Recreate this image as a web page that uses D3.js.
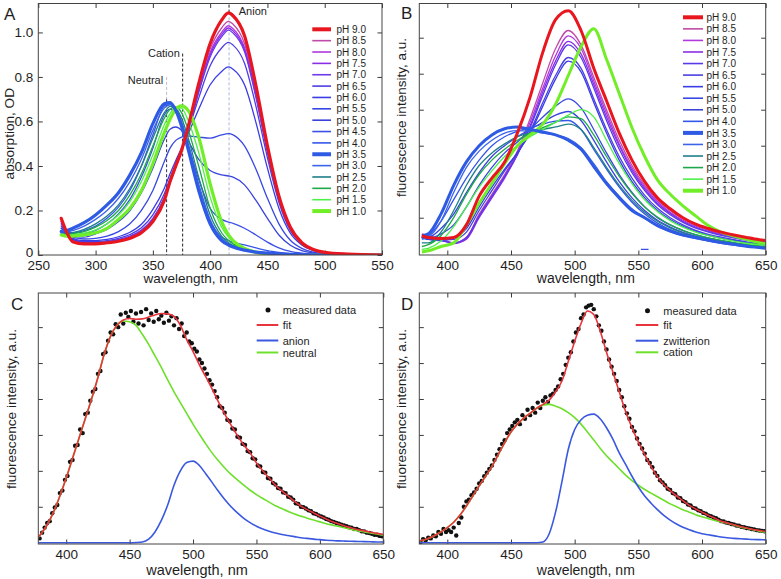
<!DOCTYPE html>
<html><head><meta charset="utf-8">
<script src="https://cdn.jsdelivr.net/npm/d3@7"></script>
<style>
body{margin:0;background:#fff}
svg{display:block}
</style>
</head><body>
<svg id="chart" width="781" height="579"></svg>
<script>
// ---------------- DATA ----------------
// Panel A: absorption spectra
const absWl = [270,275,280,290,300,310,320,330,340,350,360,365,370,375,380,390,400,410,416,420,430,440,450,460,470,480,490,500,520,550];
const absLabels = ["pH 9.0","pH 8.5","pH 8.0","pH 7.5","pH 7.0","pH 6.5","pH 6.0","pH 5.5","pH 5.0","pH 4.5","pH 4.0","pH 3.5","pH 3.0","pH 2.5","pH 2.0","pH 1.5","pH 1.0"];
const absPH90 = [.165,.10,.06,.05,.05,.055,.062,.075,.10,.15,.245,.33,.40,.47,.56,.77,.95,1.055,1.088,1.075,.985,.76,.49,.265,.125,.055,.025,.012,.004,0];
const absPH85 = [.16,.10,.06,.05,.05,.055,.063,.077,.10,.15,.245,.325,.395,.465,.55,.75,.925,1.02,1.05,1.037,.95,.735,.48,.26,.122,.055,.024,.012,.004,0];
const absPH80 = [.15,.10,.065,.055,.052,.056,.065,.08,.105,.155,.25,.325,.395,.462,.545,.74,.91,1.0,1.03,1.017,.932,.722,.472,.256,.12,.055,.024,.012,.004,0];
const absPH75 = [.15,.10,.065,.055,.054,.058,.067,.082,.108,.16,.255,.328,.398,.465,.545,.735,.9,.99,1.02,1.007,.922,.715,.467,.253,.118,.054,.024,.012,.004,0];
const absPH70 = [.14,.10,.068,.058,.056,.06,.07,.085,.112,.165,.26,.332,.40,.468,.545,.73,.89,.98,1.01,.997,.913,.707,.462,.25,.117,.054,.024,.012,.004,0];
const absPH65 = [.13,.10,.07,.06,.06,.065,.075,.092,.122,.18,.275,.345,.41,.475,.545,.705,.85,.93,.955,.943,.862,.668,.437,.237,.11,.051,.022,.011,.004,0];
const absPH60 = [.12,.10,.075,.065,.065,.07,.082,.102,.138,.205,.30,.365,.425,.48,.535,.655,.765,.825,.845,.835,.765,.595,.39,.21,.098,.045,.02,.01,.003,0];
const absPH55 = [.12,.10,.08,.072,.075,.085,.105,.14,.2,.29,.42,.48,.515,.53,.535,.53,.525,.54,.545,.54,.49,.385,.255,.14,.066,.03,.013,.006,.002,0];
const absPH50 = [.11,.095,.085,.08,.095,.115,.15,.2,.28,.39,.52,.565,.575,.56,.52,.43,.38,.36,.355,.35,.315,.245,.165,.09,.044,.02,.009,.004,.001,0];
const absPH45 = [.11,.095,.09,.095,.11,.14,.185,.25,.35,.48,.63,.655,.64,.59,.51,.34,.21,.16,.148,.142,.12,.09,.058,.032,.016,.008,.004,.002,.001,0];
const absPH40 = [.11,.10,.10,.11,.13,.165,.215,.29,.40,.54,.67,.68,.655,.59,.50,.30,.15,.08,.065,.058,.045,.032,.02,.012,.006,.003,.002,.001,0,0];
const absPH35 = [.105,.11,.12,.145,.18,.225,.28,.36,.46,.59,.68,.685,.65,.58,.49,.29,.14,.065,.045,.036,.022,.013,.008,.005,.003,.002,.001,0,0,0];
const absPH30 = [.11,.105,.11,.13,.16,.20,.255,.33,.43,.56,.66,.675,.655,.60,.515,.32,.16,.075,.05,.04,.025,.015,.009,.005,.003,.002,.001,0,0,0];
const absPH25 = [.10,.095,.10,.115,.14,.175,.225,.30,.40,.525,.64,.668,.66,.615,.54,.35,.18,.085,.055,.043,.025,.014,.008,.004,.002,.001,0,0,0,0];
const absPH20 = [.095,.09,.095,.105,.125,.155,.20,.27,.365,.49,.615,.655,.665,.64,.575,.40,.21,.10,.065,.05,.028,.015,.008,.004,.002,.001,0,0,0,0];
const absPH15 = [.09,.085,.09,.098,.113,.14,.18,.24,.33,.45,.585,.635,.663,.66,.615,.46,.26,.125,.08,.06,.032,.016,.008,.004,.002,.001,0,0,0,0];
const absPH10 = [.09,.085,.085,.09,.10,.12,.16,.21,.29,.41,.55,.61,.655,.67,.655,.53,.32,.15,.09,.065,.03,.012,.005,.002,.001,0,0,0,0,0];
const absTicksX = [250,300,350,400,450,500,550];
const absTicksY = [0,0.2,0.4,0.6,0.8,1.0];
// marker lines (wavelength, top OD, OD where light/dark style switches)
const markerNames = ["Neutral","Cation","Anion"];
const markerWl = [362,376,416.5];
const markerTop = [0.80,0.905,1.125];
const markerSplit = [0.70,0.905,1.09];

// Panel B: fluorescence spectra
const fluWl = [380,385,395,405,415,425,435,445,455,465,475,485,495,505,515,525,535,545,555,565,575,585,595,605,615,625,635,645,650];
const fluLabels = ["pH 9.0","pH 8.5","pH 8.0","pH 7.5","pH 7.0","pH 6.5","pH 6.0","pH 5.5","pH 5.0","pH 4.0","pH 3.5","pH 3.0","pH 2.5","pH 2.0","pH 1.5","pH 1.0"];
const fluPH90 = [.5,.45,.42,.45,.8,1.6,2.1,2.55,3.35,4.35,5.6,6.5,6.75,6.2,5.15,4.25,3.35,2.6,2.0,1.55,1.25,1.0,.82,.7,.6,.52,.45,.39,.37];
const fluPH85 = [.55,.5,.42,.3,.45,1.1,1.65,2.2,2.85,3.75,4.75,5.7,6.2,5.8,4.9,4.0,3.15,2.45,1.9,1.5,1.2,.97,.8,.68,.58,.5,.43,.37,.35];
const fluPH80 = [.5,.45,.4,.3,.42,1.05,1.6,2.15,2.8,3.65,4.6,5.5,6.05,5.7,4.8,3.9,3.05,2.38,1.85,1.45,1.15,.93,.77,.65,.55,.47,.41,.35,.33];
const fluPH75 = [.45,.42,.38,.28,.4,1.0,1.55,2.1,2.75,3.55,4.5,5.35,5.9,5.55,4.7,3.8,3.0,2.32,1.8,1.4,1.12,.9,.74,.62,.53,.45,.39,.34,.32];
const fluPH70 = [.45,.4,.36,.3,.45,1.05,1.6,2.15,2.75,3.5,4.4,5.25,5.8,5.45,4.6,3.7,2.9,2.25,1.75,1.36,1.08,.87,.71,.6,.51,.44,.38,.33,.31];
const fluPH65 = [.45,.4,.38,.4,.6,1.2,1.75,2.3,2.8,3.4,4.2,4.95,5.45,5.15,4.3,3.45,2.7,2.1,1.62,1.26,1.0,.8,.65,.54,.46,.39,.33,.29,.27];
const fluPH60 = [.45,.4,.4,.45,.7,1.3,1.85,2.35,2.8,3.35,4.1,4.85,5.35,5.05,4.2,3.35,2.6,2.0,1.55,1.2,.95,.76,.62,.51,.43,.37,.31,.27,.25];
const fluPH55 = [.45,.42,.55,.8,1.3,1.9,2.4,2.8,3.1,3.45,3.8,4.1,4.3,4.05,3.45,2.8,2.2,1.7,1.3,1.0,.8,.64,.52,.43,.36,.3,.25,.21,.2];
const fluPH50 = [.45,.45,.7,1.1,1.7,2.25,2.7,3.0,3.25,3.45,3.65,3.85,3.95,3.7,3.15,2.55,2.0,1.55,1.2,.93,.74,.59,.48,.4,.33,.27,.23,.19,.18];
const fluPH40 = [.45,.5,.9,1.5,2.1,2.6,3.0,3.25,3.4,3.5,3.6,3.68,3.7,3.45,2.9,2.35,1.85,1.43,1.1,.85,.67,.54,.44,.36,.3,.25,.21,.17,.16];
const fluPH35 = [.5,.55,1.1,1.9,2.55,3.0,3.3,3.47,3.52,3.45,3.38,3.3,3.15,2.9,2.42,1.95,1.55,1.2,1.0,.78,.63,.52,.45,.38,.31,.26,.21,.17,.15];
const fluPH30 = [.4,.45,.9,1.7,2.4,2.85,3.15,3.35,3.42,3.4,3.35,3.3,3.2,2.95,2.5,2.0,1.6,1.25,.98,.77,.61,.5,.42,.35,.29,.24,.2,.16,.15];
const fluPH25 = [.3,.3,.6,1.2,1.9,2.45,2.8,3.05,3.25,3.35,3.45,3.52,3.6,3.45,2.95,2.4,1.9,1.48,1.15,.9,.72,.58,.48,.4,.33,.28,.23,.19,.18];
const fluPH20 = [.2,.25,.5,1.0,1.65,2.2,2.6,2.9,3.15,3.35,3.5,3.65,3.8,3.75,3.3,2.7,2.15,1.68,1.3,1.02,.8,.65,.53,.44,.37,.31,.26,.22,.21];
const fluPH15 = [.12,.15,.35,.75,1.3,1.85,2.3,2.7,3.0,3.25,3.45,3.65,3.85,4.0,3.8,3.15,2.5,1.95,1.5,1.17,.92,.74,.6,.5,.42,.35,.29,.25,.24];
const fluPH10 = [.05,.08,.2,.3,.8,1.4,1.95,2.5,3.0,3.3,3.6,4.15,4.95,5.75,6.25,5.4,4.45,3.5,2.7,2.05,1.65,1.33,1.05,.78,.6,.49,.4,.31,.28];
const fluStrayWl = [552,558];
const fluStrayVal = [0.12,0.12];
const fluTicksX = [400,450,500,550,600,650];
const fluTicksY = [1,2,3,4,5,6];

// Panels C and D: fitted components
const fitWl = [378,385,390,395,400,405,410,415,420,425,430,435,440,445,450,455,460,465,470,475,480,485,490,495,500,505,510,515,520,525,530,535,540,545,550,555,560,565,570,575,580,585,590,595,600,605,610,615,620,625,630,635,640,645,650];
const cFit = [.15,.5,.85,1.3,1.8,2.35,2.9,3.45,4.0,4.6,5.25,5.75,6.05,6.2,6.24,6.22,6.23,6.28,6.34,6.38,6.37,6.3,6.05,5.65,5.32,4.95,4.62,4.28,3.92,3.58,3.27,2.98,2.72,2.5,2.22,2.0,1.8,1.6,1.44,1.3,1.15,1.02,.92,.83,.74,.66,.58,.52,.46,.41,.36,.33,.29,.26,.23];
const cAnion = [0,0,0,0,0,0,0,0,0,0,0,0,0,0,0,.005,.02,.1,.3,.62,1.05,1.6,2.0,2.23,2.27,2.15,1.92,1.68,1.43,1.2,1.0,.83,.68,.56,.46,.38,.32,.27,.23,.2,.17,.14,.12,.1,.085,.07,.06,.05,.045,.04,.035,.03,.025,.02,.02];
const cNeutral = [.15,.5,.85,1.3,1.8,2.35,2.9,3.45,4.0,4.6,5.25,5.75,6.05,6.17,6.15,6.05,5.8,5.52,5.2,4.88,4.53,4.2,3.9,3.6,3.3,3.02,2.75,2.5,2.28,2.08,1.9,1.75,1.6,1.46,1.34,1.23,1.13,1.03,.95,.87,.8,.74,.68,.63,.58,.53,.49,.45,.41,.37,.33,.3,.27,.24,.21];
const dFit = [.05,.12,.2,.3,.42,.57,.77,1.02,1.3,1.58,1.85,2.12,2.45,2.78,3.08,3.3,3.47,3.6,3.74,3.85,3.97,4.2,4.5,5.05,5.6,6.1,6.45,6.35,5.9,5.3,4.75,4.2,3.65,3.2,2.8,2.45,2.12,1.84,1.62,1.45,1.3,1.17,1.04,.94,.85,.76,.68,.6,.55,.5,.45,.41,.37,.34,.31];
const dZwitterion = [0,0,0,0,0,0,0,0,0,0,0,0,0,0,0,0,0,0,0,.02,.25,.85,1.7,2.6,3.15,3.42,3.55,3.58,3.45,3.2,2.88,2.5,2.18,1.85,1.55,1.3,1.1,.92,.76,.63,.52,.43,.36,.3,.25,.22,.19,.16,.14,.12,.11,.1,.09,.085,.08];
const dCation = [.05,.12,.2,.3,.42,.57,.77,1.02,1.3,1.58,1.85,2.12,2.45,2.78,3.08,3.3,3.47,3.6,3.74,3.83,3.85,3.8,3.73,3.62,3.48,3.3,3.08,2.86,2.63,2.42,2.24,2.06,1.88,1.73,1.6,1.48,1.38,1.28,1.18,1.08,1.0,.92,.85,.78,.72,.67,.62,.58,.54,.49,.44,.4,.36,.32,.29];
// measured points, every 2 nm from 379 to 649
const measWl = d3.range(379, 650, 2);
const cMeasured = [.12,.28,.42,.55,.6,.82,.98,1.05,1.38,1.45,
 1.75,1.86,2.25,2.3,2.7,2.72,3.15,3.05,3.58,3.62,
 3.95,4.2,4.28,4.7,4.78,5.25,5.3,5.62,5.85,5.8,
 6.08,6.0,6.35,6.1,6.4,6.28,6.45,6.15,6.38,6.1,
 6.42,6.05,6.5,6.2,6.38,6.15,6.45,6.22,6.32,6.12,
 6.4,6.18,6.3,6.05,6.25,5.95,6.1,5.75,5.85,5.6,
 5.55,5.4,5.32,5.1,5.0,4.85,4.7,4.52,4.4,4.22,
 4.05,3.8,3.75,3.62,3.42,3.38,3.18,3.15,2.95,2.92,
 2.75,2.72,2.55,2.52,2.35,2.32,2.15,2.12,1.97,1.95,
 1.8,1.78,1.66,1.62,1.52,1.5,1.4,1.38,1.28,1.26,
 1.2,1.1,1.08,1.0,.99,.95,.9,.88,.82,.8,
 .76,.73,.7,.66,.64,.6,.58,.55,.53,.5,
 .48,.46,.43,.42,.38,.38,.35,.32,.31,.28,
 .27,.25,.22,.22,.19,.18];
const dMeasured = [.02,.1,.06,.14,.12,.2,.18,.3,.25,.38,
 .3,.35,.3,.42,.2,.55,.7,1.0,1.15,1.2,
 1.32,1.4,1.5,1.65,1.72,1.85,1.95,2.05,2.15,2.3,
 2.45,2.6,2.75,2.85,3.05,3.15,3.25,3.35,3.42,3.3,
 3.55,3.45,3.7,3.55,3.75,3.62,3.9,3.75,3.95,4.05,
 3.92,4.1,4.15,4.25,4.35,4.55,4.7,4.95,5.15,5.3,
 5.6,5.85,5.95,6.25,6.35,6.55,6.6,6.62,6.5,6.3,
 6.05,5.9,5.6,5.38,5.1,4.9,4.7,4.5,4.25,4.05,
 3.8,3.6,3.45,3.22,3.1,2.9,2.75,2.62,2.48,2.3,
 2.22,2.1,1.95,1.86,1.74,1.68,1.6,1.5,1.47,1.38,
 1.35,1.26,1.24,1.16,1.13,1.06,1.04,.97,.95,.9,
 .88,.83,.81,.76,.74,.7,.68,.64,.6,.59,
 .56,.55,.52,.51,.48,.47,.44,.43,.41,.4,
 .38,.37,.35,.34,.33,.32];
const cLegend = ["measured data","fit","anion","neutral"];
const dLegend = ["measured data","fit","zwitterion","cation"];

// ---------------- STYLE ----------------
const FONT = '"Liberation Sans", Arial, Helvetica, sans-serif';
const TXT = "#1e1e1e";
const absColors = ["#e8161e","#c04aa8","#b038dc","#8a2ee6","#6c3ae8","#4c3ee4","#3a3ce6","#3848e2","#3a44dc","#3a50e6","#3456ea","#2e5ae4","#3c64ea","#1f7f8a","#1fa84a","#4ef04a","#72ee28"];
const fluColors = ["#e8161e","#c04aa8","#b038dc","#8a2ee6","#5a3ae8","#4a40e4","#3a3ce6","#3848e2","#3a44dc","#3456ea","#2e5ae4","#3c64ea","#1f7f8a","#1fa84a","#4ef04a","#72ee28"];
const thickA = new Set(["pH 9.0","pH 3.5","pH 1.0"]);
const FIT_RED = "#e8343c", COMP_BLUE = "#3a58e0", COMP_GREEN = "#6ee02c";

const svg = d3.select("#chart");
svg.append("rect").attr("width",781).attr("height",579).attr("fill","#fff");

function panel(id, box, xDom, yDom, xTicks, yTicks, yFmt) {
  const x = d3.scaleLinear().domain(xDom).range([box.l, box.r]);
  const y = d3.scaleLinear().domain(yDom).range([box.b, box.t]);
  const g = svg.append("g");
  svg.append("clipPath").attr("id", "clip" + id).append("rect")
    .attr("x", box.l).attr("y", box.t).attr("width", box.r - box.l).attr("height", box.b - box.t);
  const style = s => {
    s.select(".domain").remove();
    s.attr("font-family", FONT).attr("font-size", 13.5).attr("color", "#3a3a3a");
    s.selectAll("text").attr("fill", TXT);
  };
  g.append("g").attr("transform", `translate(0,${box.b})`)
    .call(d3.axisBottom(x).tickValues(xTicks).tickSize(-4.5).tickPadding(5)).call(style);
  g.append("g").attr("transform", `translate(0,${box.t})`)
    .call(d3.axisTop(x).tickValues(xTicks).tickSize(-4.5).tickFormat("")).call(style);
  const left = g.append("g").attr("transform", `translate(${box.l},0)`)
    .call(d3.axisLeft(y).tickValues(yTicks).tickSize(-4.5).tickPadding(5).tickFormat(yFmt)).call(style);
  left.selectAll(".tick text").filter(d => d === 0).attr("dy", "0.1em");
  g.append("g").attr("transform", `translate(${box.r},0)`)
    .call(d3.axisRight(y).tickValues(yTicks).tickSize(-4.5).tickFormat("")).call(style);
  const plot = g.append("g").attr("clip-path", `url(#clip${id})`);
  g.append("rect").attr("x", box.l).attr("y", box.t)
    .attr("width", box.r - box.l).attr("height", box.b - box.t)
    .attr("fill", "none").attr("stroke", "#444").attr("stroke-width", 1);
  return {x, y, g, plot, box};
}

function addText(sel, txt, x, y, size, anchor) {
  return sel.append("text").attr("x", x).attr("y", y).text(txt)
    .attr("font-family", FONT).attr("font-size", size).attr("fill", TXT)
    .attr("text-anchor", anchor || "start");
}
function yTitle(txt, x, yc, size) {
  svg.append("text").attr("transform", `translate(${x},${yc}) rotate(-90)`)
    .attr("text-anchor", "middle").attr("font-family", FONT).attr("font-size", size)
    .attr("fill", TXT).text(txt);
}

// ---------------- PANEL A ----------------
const A = panel("A", {l:38.3, r:382, t:3.5, b:255}, [250,550], [0,1.13], absTicksX, absTicksY,
  d => d === 0 ? "0" : d3.format(".1f")(d));
const absSeries = [absPH90,absPH85,absPH80,absPH75,absPH70,absPH65,absPH60,absPH55,absPH50,absPH45,absPH40,absPH35,absPH30,absPH25,absPH20,absPH15,absPH10]
  .map((vals, i) => ({label: absLabels[i], color: absColors[i], pts: absWl.map((w, j) => [w, vals[j]])}));
const lineA = d3.line().x(d => A.x(d[0])).y(d => A.y(d[1])).curve(d3.curveMonotoneX);

markerWl.forEach((w, i) => {
  const x = A.x(w);
  const seg = (v1, v2, col) => A.plot.append("line").attr("x1", x).attr("x2", x)
    .attr("y1", A.y(v1)).attr("y2", A.y(v2))
    .attr("stroke", col).attr("stroke-width", 1).attr("stroke-dasharray", "3,2");
  if (i === 0) { seg(markerTop[i], markerSplit[i], "#b8bcc8"); seg(markerSplit[i], 0, "#2a2f50"); }
  else if (i === 1) { seg(markerTop[i], 0, "#222"); }
  else { seg(markerTop[i], markerSplit[i], "#222"); seg(markerSplit[i], 0, "#a8b8dc"); }
});

const orderA = absSeries.filter(s => !thickA.has(s.label)).concat(absSeries.filter(s => thickA.has(s.label)).reverse());
orderA.forEach(s => {
  A.plot.append("path").attr("d", lineA(s.pts)).attr("fill", "none")
    .attr("stroke", s.color).attr("stroke-width", thickA.has(s.label) ? 3.2 : 1.3)
    .attr("stroke-linejoin", "round").attr("stroke-linecap", "round");
});

addText(svg, markerNames[0], A.x(359), A.y(0.768), 11, "end");
addText(svg, markerNames[1], A.x(373.5), A.y(0.888), 11, "end");
addText(svg, markerNames[2], A.x(425), A.y(1.078), 11, "start");

absSeries.forEach((s, i) => {
  const yy = 29.3 + i * 11.36;
  svg.append("line").attr("x1", 312.3).attr("x2", 331).attr("y1", yy).attr("y2", yy)
    .attr("stroke", s.color).attr("stroke-width", thickA.has(s.label) ? 4 : 1.6);
  addText(svg, s.label, 336.5, yy + 3.6, 10, "start");
});

addText(svg, "A", 4, 20, 17, "start");
addText(svg, "wavelength, nm", 190.7, 283, 13.5, "middle");
yTitle("absorption, OD", 13.5, 133.7, 13.6);

// ---------------- PANEL B ----------------
const B = panel("B", {l:419.3, r:765.7, t:3.5, b:255}, [378,650], [-0.036,6.95], fluTicksX, fluTicksY, () => "");
const fluSeries = [fluPH90,fluPH85,fluPH80,fluPH75,fluPH70,fluPH65,fluPH60,fluPH55,fluPH50,fluPH40,fluPH35,fluPH30,fluPH25,fluPH20,fluPH15,fluPH10]
  .map((vals, i) => ({label: fluLabels[i], color: fluColors[i], pts: fluWl.map((w, j) => [w, vals[j]])}));
const lineB = d3.line().x(d => B.x(d[0])).y(d => B.y(d[1])).curve(d3.curveMonotoneX);
const orderB = fluSeries.filter(s => !thickA.has(s.label)).concat(fluSeries.filter(s => thickA.has(s.label)).reverse());
orderB.forEach(s => {
  B.plot.append("path").attr("d", lineB(s.pts)).attr("fill", "none")
    .attr("stroke", s.color).attr("stroke-width", thickA.has(s.label) ? 3 : 1.3)
    .attr("stroke-linejoin", "round");
});
B.plot.append("path").attr("d", lineB(fluStrayWl.map((w, j) => [w, fluStrayVal[j]])))
  .attr("fill", "none").attr("stroke", "#3a50e6").attr("stroke-width", 1.3);

fluSeries.forEach((s, i) => {
  const yy = 17.3 + i * 11.56;
  svg.append("line").attr("x1", 683).attr("x2", 703).attr("y1", yy).attr("y2", yy)
    .attr("stroke", s.color).attr("stroke-width", thickA.has(s.label) ? 4 : 1.6);
  addText(svg, s.label, 706.5, yy + 3.6, 10, "start");
});
addText(svg, "B", 401, 18.5, 17, "start");
addText(svg, "wavelength, nm", 585.8, 283, 14, "middle");
yTitle("fluorescence intensity, a.u.", 405.5, 117.5, 13.5);

// ---------------- PANELS C and D ----------------
function fitPanel(id, box, fit, comp1, comp2, meas) {
  const P = panel(id, box, [378,650], [-0.036,6.95], fluTicksX, fluTicksY, () => "");
  const ln = d3.line().x(d => P.x(d[0])).y(d => P.y(d[1])).curve(d3.curveMonotoneX);
  const toPts = arr => fitWl.map((w, j) => [w, arr[j]]);
  P.plot.selectAll("circle.m").data(measWl.map((w, j) => [w, meas[j]])).join("circle")
    .attr("class", "m").attr("cx", d => P.x(d[0])).attr("cy", d => P.y(d[1])).attr("r", 2.2).attr("fill", "#111");
  P.plot.append("path").attr("d", ln(toPts(comp2))).attr("fill", "none").attr("stroke", COMP_GREEN).attr("stroke-width", 1.6);
  P.plot.append("path").attr("d", ln(toPts(comp1))).attr("fill", "none").attr("stroke", COMP_BLUE).attr("stroke-width", 1.6);
  P.plot.append("path").attr("d", ln(toPts(fit))).attr("fill", "none").attr("stroke", FIT_RED).attr("stroke-width", 1.6);
  return P;
}
const C = fitPanel("C", {l:38.3, r:383.3, t:293, b:544}, cFit, cAnion, cNeutral, cMeasured);
const D = fitPanel("D", {l:419.3, r:765.7, t:293, b:544}, dFit, dZwitterion, dCation, dMeasured);

function fitLegend(labels, lx1, lx2, tx, rows) {
  const cols = [null, FIT_RED, COMP_BLUE, COMP_GREEN];
  labels.forEach((lab, i) => {
    const yy = rows[i];
    if (i === 0) {
      svg.append("circle").attr("cx", (lx1 + lx2) / 2 + 0.5).attr("cy", yy).attr("r", 2.5).attr("fill", "#111");
    } else {
      svg.append("line").attr("x1", lx1).attr("x2", lx2).attr("y1", yy).attr("y2", yy)
        .attr("stroke", cols[i]).attr("stroke-width", 2);
    }
    addText(svg, lab, tx, yy + 4, 11, "start");
  });
}
fitLegend(cLegend, 256.7, 278.3, 282.7, [310, 325, 340.5, 352.5]);
fitLegend(dLegend, 635.7, 658.3, 663.3, [310.7, 325, 340.7, 352.3]);

addText(svg, "C", 11, 310, 17, "start");
addText(svg, "D", 401, 310, 17, "start");
addText(svg, "wavelength, nm", 197, 574.5, 14.5, "middle");
addText(svg, "wavelength, nm", 585.8, 574.5, 14, "middle");
yTitle("fluorescence intensity, a.u.", 15.5, 409, 13.6);
yTitle("fluorescence intensity, a.u.", 405.5, 409, 13.6);
</script>
</body></html>
